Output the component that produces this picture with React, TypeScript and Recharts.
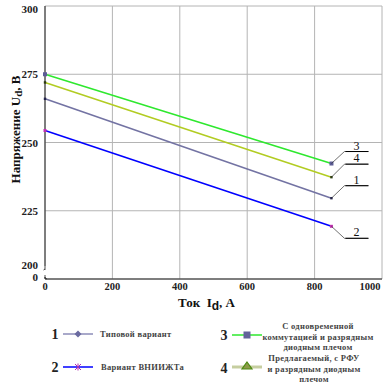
import { LineChart, Line, XAxis, YAxis, CartesianGrid, LabelList } from "recharts";

// Ток Id, А
const CURRENT = [0, 850];
// Напряжение Ud, В по вариантам
const TYPICAL = [266, 229.6];
const VNIIZHT = [254.4, 219.3];
const SIMULTANEOUS = [275, 242.3];
const PROPOSED = [272, 237.3];

const X_TICKS = [0, 200, 400, 600, 800, 1000];
const Y_TICKS = [200, 225, 250, 275, 300];

const SERIES = [
  { key: "typical", num: "1", values: TYPICAL, color: "#7373a3", marker: "dot", lead: -12.5 },
  { key: "vniizht", num: "2", values: VNIIZHT, color: "#0000ff", marker: "star", lead: 12 },
  { key: "simult", num: "3", values: SIMULTANEOUS, color: "#2ee82e", marker: "square", lead: -12 },
  { key: "proposed", num: "4", values: PROPOSED, color: "#b2cc22", marker: "tri", lead: -13 },
];

const LEGEND_TEXT: Record<string, string[]> = {
  typical: ["Типовой вариант"],
  vniizht: ["Вариант ВНИИЖТа"],
  simult: ["С одновременной", "коммутацией и разрядным", "диодным плечом"],
  proposed: ["Предлагаемый, с РФУ", "и разрядным диодным", "плечом"],
};

const data = CURRENT.map((x, i) => {
  const row: Record<string, number> = { x };
  for (const s of SERIES) row[s.key] = s.values[i];
  return row;
});

const SERIF = "'Liberation Serif', 'Times New Roman', serif";

function PointMark({ cx, cy, kind }: { cx?: number; cy?: number; kind: string }) {
  if (cx == null || cy == null) return null;
  if (kind === "square") return <rect x={cx - 2} y={cy - 2} width={4} height={4} fill="#5c5c96" />;
  if (kind === "star") return <rect x={cx - 1.5} y={cy - 1.5} width={3} height={3} fill="#c030b0" />;
  if (kind === "tri") return <rect x={cx - 1.2} y={cy - 1.2} width={2.4} height={2.4} fill="#2c3a10" />;
  return <rect x={cx - 1.2} y={cy - 1.2} width={2.4} height={2.4} fill="#24244a" />;
}

function makeLeader(num: string, lead: number, last: number) {
  return (p: any) => {
    if (p.index !== last) return null;
    const x = Number(p.x);
    const y = Number(p.y);
    const ly = y + lead;
    return (
      <g>
        <polyline
          points={`${x},${y} ${x + 13},${ly} ${x + 37},${ly}`}
          fill="none"
          stroke="#333"
          strokeWidth={0.7}
        />
        <line x1={x + 14} y1={ly} x2={x + 37} y2={ly} stroke="#000" strokeWidth={1} />
        <text x={x + 25} y={ly - 2} textAnchor="middle" fontFamily={SERIF} fontSize={12} fill="#111">
          {num}
        </text>
      </g>
    );
  };
}

function YTick(p: any) {
  const v = p.payload.value;
  const ax = p.x + 7;
  if (v === 200) {
    return (
      <g>
        <rect x={ax - 2} y={p.y - 13} width={4} height={11} fill="#fff" />
        <path d={`M${ax},${p.y - 13} L${ax},${p.y - 9} M${ax - 1.5},${p.y - 9} L${ax},${p.y - 10} M${ax},${p.y - 4} L${ax},${p.y - 1} L${ax + 2},${p.y}`} fill="none" stroke="#222" strokeWidth={0.8} />
        <text x={p.x} y={p.y - 10} textAnchor="end" fontFamily={SERIF} fontWeight="bold" fontSize={11} fill="#222">200</text>
        <text x={p.x} y={p.y + 2} textAnchor="end" fontFamily={SERIF} fontWeight="bold" fontSize={11} fill="#222">0</text>
      </g>
    );
  }
  return (
    <text x={p.x} y={p.y + 4} textAnchor="end" fontFamily={SERIF} fontWeight="bold" fontSize={11} fill="#222">
      {v}
    </text>
  );
}

function XTick(p: any) {
  const v = p.payload.value;
  const shift = v === 1000 ? -6 : 0;
  return (
    <text x={p.x + shift} y={p.y + 8} textAnchor="middle" fontFamily={SERIF} fontWeight="bold" fontSize={10.5} fill="#222">
      {v}
    </text>
  );
}

function XTitle(p: any) {
  const vb = p.viewBox || { x: 0, y: 0, width: 0 };
  return (
    <text x={vb.x + vb.width / 2 - 7} y={vb.y + 28} textAnchor="middle" fontFamily={SERIF} fontWeight="bold" fontSize={13} fill="#111">
      {"Ток\u00a0\u00a0I"}
      <tspan fontFamily="'Liberation Sans', Arial, sans-serif" fontSize={12} dy={3}>d</tspan>
      <tspan dy={-3}>, А</tspan>
    </text>
  );
}

function YTitle(p: any) {
  const vb = p.viewBox || { x: 0, y: 0, height: 0 };
  const cx = 15;
  const cy = vb.y + vb.height / 2 - 13;
  return (
    <text x={cx} y={cy} transform={`rotate(-90 ${cx} ${cy})`} textAnchor="middle" dominantBaseline="central" fontFamily={SERIF} fontWeight="bold" fontSize={13} fill="#111">
      Напряжение U<tspan fontSize={11} dy={3}>d</tspan>
      <tspan dy={-3}>, В</tspan>
    </text>
  );
}

function LegendSwatch({ kind, color, x, y }: { kind: string; color: string; x: number; y: number }) {
  const mid = x + 15;
  let mark = null;
  if (kind === "dot") mark = <polygon points={`${mid},${y - 3.5} ${mid + 3.5},${y} ${mid},${y + 3.5} ${mid - 3.5},${y}`} fill="#6a6aa0" />;
  if (kind === "star")
    mark = (
      <g stroke="#b030b0" strokeWidth={1}>
        <line x1={mid - 3} y1={y - 3} x2={mid + 3} y2={y + 3} />
        <line x1={mid - 3} y1={y + 3} x2={mid + 3} y2={y - 3} />
        <line x1={mid} y1={y - 3.5} x2={mid} y2={y + 3.5} />
      </g>
    );
  if (kind === "square") mark = <rect x={mid - 3.5} y={y - 3.5} width={7} height={7} fill="#62629a" />;
  if (kind === "tri")
    mark = <polygon points={`${mid},${y - 5} ${mid + 5},${y + 2} ${mid - 5},${y + 2}`} fill="#8c9a48" stroke="#4c8a10" strokeWidth={1.2} />;
  const lineColor = kind === "tri" ? "#c6cea0" : kind === "dot" ? "#8c8cb8" : color;
  return (
    <g>
      <line x1={x} y1={y} x2={x + 30} y2={y} stroke={lineColor} strokeWidth={kind === "tri" ? 3 : 1.5} />
      {mark}
    </g>
  );
}

function ChartLegend() {
  const slots = [
    { num: { x: 55, y: 339 }, sw: { x: 63, y: 334 }, text: { x: 100, y: 337 }, anchor: "start" },
    { num: { x: 55, y: 372 }, sw: { x: 63, y: 367 }, text: { x: 101, y: 370 }, anchor: "start" },
    { num: { x: 224, y: 340 }, sw: { x: 232, y: 335 }, text: { x: 318, y: 329 }, anchor: "middle" },
    { num: { x: 224, y: 373 }, sw: { x: 232, y: 367 }, text: { x: 314, y: 361 }, anchor: "middle" },
  ];
  return (
    <svg width={392} height={388} style={{ position: "absolute", left: 0, top: 0, pointerEvents: "none" }}>
      {SERIES.map((s, i) => {
        const sl = slots[i];
        const lines = LEGEND_TEXT[s.key];
        return (
          <g key={s.key}>
            <text x={sl.num.x} y={sl.num.y} textAnchor="middle" fontFamily={SERIF} fontWeight="bold" fontSize={14} fill="#222">
              {s.num}
            </text>
            <LegendSwatch kind={s.marker} color={s.color} x={sl.sw.x} y={sl.sw.y} />
            {lines.map((t, j) => (
              <text
                key={j}
                x={sl.text.x}
                y={sl.text.y + j * 10.5}
                textAnchor={sl.anchor as any}
                fontFamily={SERIF}
                fontWeight="bold"
                fontSize={8.5}
                letterSpacing={0.3}
                fill="#444"
              >
                {t}
              </text>
            ))}
          </g>
        );
      })}
    </svg>
  );
}

export default function App() {
  const last = CURRENT.length - 1;
  return (
    <div style={{ position: "absolute", left: 0, top: 0, width: 392, height: 388, background: "#fff" }}>
      <LineChart width={392} height={388} data={data} margin={{ top: 6, right: 10, bottom: 0, left: 0 }}>
        <CartesianGrid stroke="#b4b4b4" strokeWidth={1} horizontalValues={Y_TICKS} verticalValues={X_TICKS} />
        <XAxis
          dataKey="x"
          type="number"
          domain={[0, 1000]}
          ticks={X_TICKS}
          height={109}
          tickLine={false}
          tickSize={0}
          tickMargin={3}
          axisLine={{ stroke: "#222", strokeWidth: 1 }}
          tick={<XTick />}
          label={{ content: (p: any) => <XTitle {...p} /> }}
        />
        <YAxis
          type="number"
          domain={[200, 300]}
          ticks={Y_TICKS}
          width={45}
          tickLine={false}
          tickSize={0}
          tickMargin={7}
          axisLine={{ stroke: "#222", strokeWidth: 1 }}
          tick={<YTick />}
          label={{ content: (p: any) => <YTitle {...p} /> }}
        />
        {SERIES.map((s) => (
          <Line
            key={s.key}
            type="linear"
            dataKey={s.key}
            stroke={s.color}
            strokeWidth={1.6}
            isAnimationActive={false}
            dot={(p: any) => <PointMark key={`${s.key}-${p.index}`} cx={p.cx} cy={p.cy} kind={s.marker} />}
            activeDot={false}
          >
            <LabelList dataKey={s.key} content={makeLeader(s.num, s.lead, last)} />
          </Line>
        ))}
      </LineChart>
      <ChartLegend />
    </div>
  );
}
